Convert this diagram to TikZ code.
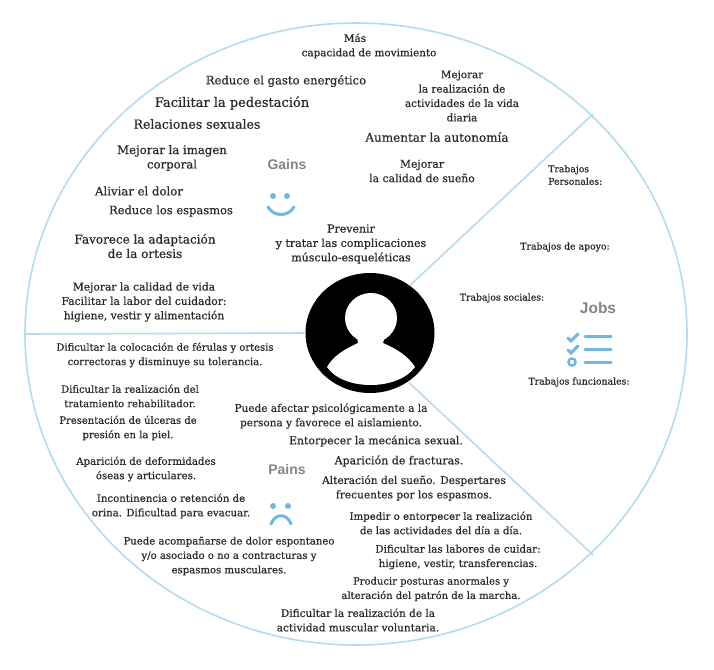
\documentclass[tikz,border=0pt]{standalone}
\usepackage{fontspec}
\usetikzlibrary{shapes.geometric}
\setmainfont{DejaVu Serif}[RawFeature={embolden=0.5}]
\newfontfamily\lsans{Liberation Sans}
\definecolor{ringblue}{HTML}{B5DBEE}
\definecolor{iconblue}{HTML}{6FB9E0}
\definecolor{titlegrey}{HTML}{858585}
\definecolor{inktext}{HTML}{2A2A2A}
\tikzset{
  t/.style={inner sep=0pt,align=center,text=inktext,font=\fontsize{#1}{14.4}\selectfont},
  t/.default=10.4,
  title/.style={inner sep=0pt,text=titlegrey,font=\lsans\bfseries\fontsize{14}{16}\selectfont},
  ring/.style={draw=ringblue,line width=1.6pt},
  icon/.style={draw=iconblue,line width=3pt,line cap=round}
}
\begin{document}
\begin{tikzpicture}[x=1pt,y=-1pt]
\useasboundingbox (0,0) rectangle (714,669);
\fill[white] (0,0) rectangle (714,669);
\draw[ring] (356,334) ellipse (331 and 311);
\coordinate (c1) at (593,114);
\coordinate (c2) at (593,555);
\coordinate (c3) at (25,334);
\node[ellipse,fill=black,minimum width=129pt,minimum height=120pt,inner sep=0pt] (avatar) at (370,333) {};
\draw[ring] (avatar.50) -- (c1);
\draw[ring] (avatar.-52) -- (c2);
\draw[ring] (avatar.west) -- (c3);
\fill[white] (371,318) ellipse (26 and 25);
\fill[white] (357,336) -- (385,336) -- (383,343) .. controls (397,349) and (408,356) .. (415,367) .. controls (398,391) and (343,391) .. (327,367) .. controls (333,356) and (345,349) .. (358,343) -- cycle;

\node[t] (a1) at (369,46) {Más\kern28pt\\capacidad de movimiento};
\node[t=11.6] (a2) at (286,81) {Reduce el gasto  energético};
\node[t=13] (a3) at (232,103) {Facilitar la pedestación};
\node[t=12.5] (a4) at (197,124) {Relaciones sexuales};
\node[t=11.7] (a5) at (172,158) {Mejorar la imagen\\corporal};
\node[t=11.7] (a6) at (139,191) {Aliviar el dolor};
\node[t=11.5] (a7) at (171,211) {Reduce los espasmos};
\node[t=12] (a8) at (145,246) {Favorece la adaptación\\de la ortesis};
\node[t=10.7] (a9) at (144,302) {Mejorar la calidad de vida\\Facilitar la labor del cuidador:\\higiene, vestir y alimentación};
\node[t] (a10) at (462,96) {Mejorar\\la realización de\\actividades de la vida\\diaria};
\node[t=12] (a11) at (437,137) {Aumentar la autonomía};
\node[t=10.8] (a12) at (422,171) {Mejorar\\la calidad de sueño};
\node[t=11] (a13) at (351,244) {Prevenir\\y tratar las complicaciones\\músculo-esqueléticas};

\node[title] (gains) at (287,164) {Gains};
\fill[iconblue] (273,196) circle (3);
\fill[iconblue] (287,196) circle (3);
\draw[icon] (268,207) .. controls (274,217) and (288,217) .. (294,207);

\node[t=9.3,anchor=west,align=left,font=\fontsize{9.3}{12.5}\selectfont] (j1) at (548,175) {Trabajos\\Personales:};
\node[t=9.3] (j2) at (565,247) {Trabajos de apoyo:};
\node[t=9.3] (j3) at (502,298) {Trabajos sociales:};
\node[t=9.3] (j4) at (579,382) {Trabajos funcionales:};
\node[title,font=\lsans\bfseries\fontsize{15.5}{16}\selectfont] (jobs) at (598,308) {Jobs};
\draw[icon] (568,338) -- (571,341) -- (578,334);
\draw[icon] (568,350) -- (571,353) -- (578,346);
\draw[iconblue,line width=2.4pt] (572,362) circle (3.6);
\draw[icon] (585,336) -- (611,336);
\draw[icon] (585,349) -- (611,349);
\draw[icon] (585,362) -- (611,362);

\node[t=10] (p1) at (165,355) {Dificultar la colocación de férulas y ortesis\\correctoras y disminuye su tolerancia.};
\node[t=10] (p2) at (130,396) {Dificultar la realización del\\tratamiento rehabilitador.};
\node[t=10] (p3) at (128,428) {Presentación de úlceras de\\presión en la piel.};
\node[t=10.2] (p4) at (146,469) {Aparición de deformidades\\óseas y articulares.};
\node[t=10.2] (p5) at (171,506) {Incontinencia o retención de\\orina. Dificultad para evacuar.};
\node[t=10.1] (p6) at (229,556) {Puede acompañarse de dolor espontaneo\\y/o asociado o no a contracturas y\\espasmos musculares.};
\node[t=10.5] (p7) at (331,416) {Puede afectar psicológicamente a la\\persona y favorece el aislamiento.};
\node[t=10.9] (p8) at (376,441) {Entorpecer la mecánica sexual.};
\node[t=11] (p9) at (399,461) {Aparición de fracturas.};
\node[t=10.6] (p10) at (414,488) {Alteración del sueño. Despertares\\frecuentes por los espasmos.};
\node[t=10.2] (p11) at (441,523) {Impedir o entorpecer la realización\\de las actividades del día a día.};
\node[t=10.3] (p12) at (458,557) {Dificultar las labores de cuidar:\\higiene, vestir, transferencias.};
\node[t=10] (p13) at (431,589) {Producir posturas anormales y\\alteración del patrón de la marcha.};
\node[t=10.5] (p14) at (358,620) {Dificultar la realización de la\\actividad muscular voluntaria.};

\node[title] (pains) at (287,469) {Pains};
\fill[iconblue] (273,506) circle (3);
\fill[iconblue] (288,506) circle (3);
\draw[icon] (271,524) .. controls (275,513) and (287,513) .. (291,524);
\end{tikzpicture}
\end{document}
